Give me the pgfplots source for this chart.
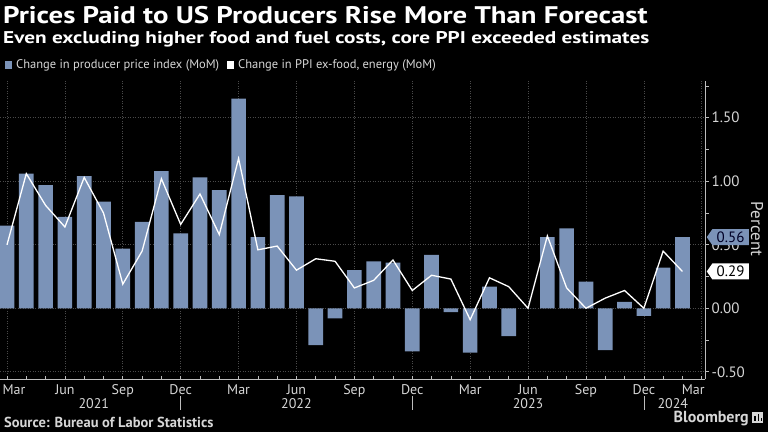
\documentclass[border=0pt]{standalone}
\usepackage{pgfplots}
\pgfplotsset{compat=1.18}
\usepackage{pgfplotstable}
\usepackage{fontspec}
\setmainfont{PT Sans}
\setsansfont{PT Sans}
\usetikzlibrary{shapes.symbols}
\definecolor{barc}{HTML}{7B93B8}
\definecolor{gridc}{HTML}{4A4A4A}
\definecolor{txt}{HTML}{D6D6D6}
\definecolor{axc}{HTML}{BDBDBD}

\pgfplotstableread{
i ppi core
0 0.65 0.50
1 1.06 1.06
2 0.97 0.81
3 0.72 0.64
4 1.04 1.03
5 0.84 0.75
6 0.47 0.19
7 0.68 0.45
8 1.08 1.02
9 0.59 0.66
10 1.03 0.90
11 0.93 0.58
12 1.65 1.18
13 0.56 0.46
14 0.89 0.49
15 0.88 0.30
16 -0.29 0.39
17 -0.08 0.37
18 0.30 0.16
19 0.37 0.22
20 0.36 0.38
21 -0.34 0.14
22 0.42 0.26
23 -0.03 0.23
24 -0.35 -0.09
25 0.17 0.24
26 -0.22 0.17
27 0.00 0.00
28 0.56 0.57
29 0.63 0.16
30 0.21 0.00
31 -0.33 0.08
32 0.05 0.14
33 -0.06 0.00
34 0.32 0.45
35 0.56 0.29
}\data

\begin{document}
\begin{tikzpicture}[x=1bp,y=1bp]
\fill[black] (0,0) rectangle (768,432);
\useasboundingbox (0,0) rectangle (768,432);
% titles
\node[anchor=base west, inner sep=0pt, text=white, font=\fontsize{24bp}{28bp}\selectfont\bfseries] at (3,408.5) {\scalebox{1.2}[1]{Prices Paid to US Producers Rise More Than Forecast}};
\node[anchor=base west, inner sep=0pt, text=white, font=\fontsize{17bp}{21bp}\selectfont\bfseries] at (3,388.7) {\scalebox{1.25}[1]{Even excluding higher food and fuel costs, core PPI exceeded estimates}};
% legend
\fill[barc] (5,363.5) rectangle (12,371.5);
\node[anchor=base west, inner sep=0pt, text=txt, font=\fontsize{12.5bp}{14bp}\selectfont] at (16,363.7) {Change in producer price index (MoM)};
\fill[white] (227,363.5) rectangle (234,371.5);
\node[anchor=base west, inner sep=0pt, text=txt, font=\fontsize{12.5bp}{14bp}\selectfont] at (238,363.7) {Change in PPI ex-food, energy (MoM)};

\begin{axis}[
  at={(0,41.5)}, anchor=south west,
  width=705bp, height=298bp, scale only axis,
  xmin=-0.363, xmax=36.17, ymin=-0.559, ymax=1.787,
  axis x line*=bottom, axis y line*=right,
  axis line style={draw=axc, line width=0.8bp, -},
  xtick={0,...,36}, xticklabels={},
  x tick style={draw=axc, line width=0.6bp},
  xtick align=inside, ytick align=outside,
  major tick length=3.5bp, minor tick length=3.5bp,
  extra x ticks={0,3,...,36}, extra x tick labels={},
  extra x tick style={xmajorgrids=true},
  ytick={-0.5,0,0.5,1,1.5},
  minor ytick={-0.25,0.25,0.75,1.25,1.75},
  y tick style={draw=axc, line width=0.6bp},
  yticklabel style={/pgf/number format/fixed, /pgf/number format/precision=2, /pgf/number format/fixed zerofill, text=txt, font=\fontsize{15bp}{17bp}\selectfont, inner sep=0pt, xshift=3bp},
  /pgf/number format/assume math mode=true,
  ymajorgrids=true,
  grid style={draw=gridc, line width=0.6bp, dash pattern=on 1bp off 1.5bp},
  clip=false,
]
\addplot[ybar, bar width=0.76, fill=barc, draw=none] table[x=i, y=ppi]{\data};
\addplot[white, line width=1.3bp, mark=none] table[x=i, y=core]{\data};
% month labels
\foreach \xx/\lab/\sh in {0/Mar/7, 3/Jun/0, 6/Sep/0, 9/Dec/0, 12/Mar/0, 15/Jun/0, 18/Sep/0, 21/Dec/0, 24/Mar/0, 27/Jun/0, 30/Sep/0, 33/Dec/0, 36/Mar/-8.5}{
  \edef\tmp{\noexpand\node[anchor=base, inner sep=0pt, text=txt, font=\noexpand\fontsize{14bp}{16bp}\noexpand\selectfont] at (axis cs:\xx,-0.559) [yshift=-15bp, xshift=\sh bp] {\lab};}\tmp
}
\foreach \xx/\lab in {4.5/2021, 15/2022, 27/2023, 34.5/2024}{
  \edef\tmp{\noexpand\node[anchor=base, inner sep=0pt, text=txt, font=\noexpand\fontsize{14bp}{16bp}\noexpand\selectfont] at (axis cs:\xx,-0.559) [yshift=-29bp] {\lab};}\tmp
}
\foreach \xx in {9,21,33}{
  \edef\tmp{\noexpand\draw[axc, line width=0.5bp] ([yshift=-17bp]axis cs:\xx,-0.559) -- ([yshift=-31bp]axis cs:\xx,-0.559);}\tmp
}
\coordinate (p56) at (axis cs:36.17,0.56);
\coordinate (p29) at (axis cs:36.17,0.29);
\end{axis}
\node[signal, signal to=west, signal pointer angle=110, fill=barc, inner ysep=1bp, inner xsep=1.5bp, minimum height=16bp, minimum width=42bp, anchor=west, text=black!85!blue, font=\fontsize{15bp}{17bp}\selectfont] at ([xshift=1.5bp]p56) {0.56};
\node[signal, signal to=west, signal pointer angle=110, fill=white, inner ysep=1bp, inner xsep=1.5bp, minimum height=16bp, minimum width=42bp, anchor=west, text=black, font=\fontsize{15bp}{17bp}\selectfont] at ([xshift=1.5bp]p29) {0.29};
\node[rotate=-90, text=txt, font=\fontsize{17bp}{19bp}\selectfont, inner sep=0pt] at (757,203) {Percent};
% footer
\node[anchor=base west, inner sep=0pt, text=txt, font=\fontsize{14.5bp}{16bp}\selectfont\bfseries] at (4,5) {Source: Bureau of Labor Statistics};
\node[anchor=base east, inner sep=0pt, text=txt, font=\fontsize{16bp}{18bp}\selectfont\bfseries] at (749,9.5) {Bloomberg};
\fill[txt] (752,9.5) rectangle (763,20.5);
\fill[black] (754,11.5) rectangle (756,16.5);
\fill[black] (757.5,11.5) rectangle (759,18.5);
\fill[black] (760.5,11.5) rectangle (762,14.5);
\end{tikzpicture}
\end{document}
